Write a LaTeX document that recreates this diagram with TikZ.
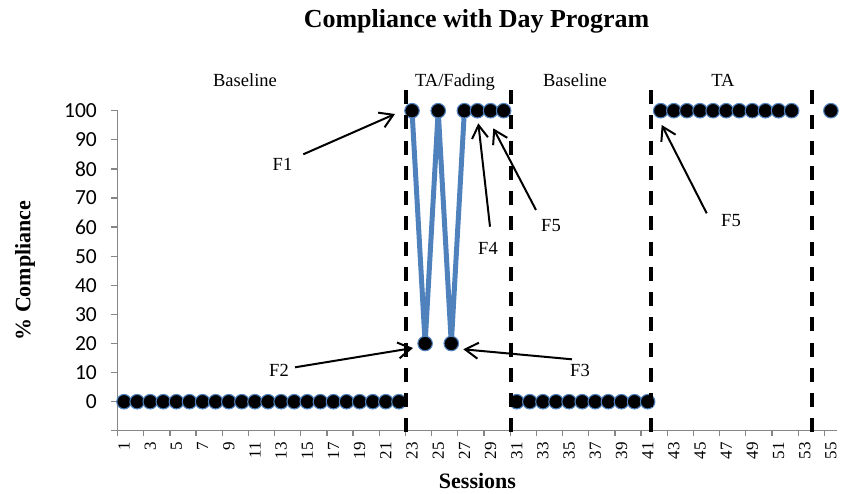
\documentclass[tikz,border=0pt]{standalone}
\usepackage{fontspec}
\setmainfont{Liberation Serif}
\newfontfamily\calibfont{Carlito}
\usetikzlibrary{arrows.meta}
\definecolor{serblue}{HTML}{4F81BD}
\definecolor{axgray}{HTML}{868686}
\pgfdeclarelayer{seriesbg}
\pgfsetlayers{seriesbg,main}
\begin{document}
\begin{tikzpicture}[x=1pt,y=-1pt,
  axisline/.style={draw=axgray, line width=1.3pt},
  phaseline/.style={line width=3.8pt, dash pattern=on 14pt off 11.25pt},
  dot/.style={circle, fill=black, draw=serblue, line width=1.1pt, minimum size=14.5pt, inner sep=0pt},
  series/.style={draw=serblue, line width=5pt, line join=round},
  callout/.style={line width=2pt, -{Straight Barb[length=13pt,width=16pt,line width=2pt]}},
  ylab/.style={anchor=east, inner sep=0pt, font=\calibfont\fontsize{21.5}{22}\selectfont},
  xlab/.style={rotate=90, anchor=east, inner sep=0pt, font=\fontsize{17}{17}\selectfont},
  phaselab/.style={anchor=base, inner sep=0pt, font=\fontsize{18.5}{19}\selectfont},
  flab/.style={anchor=base, inner sep=0pt, font=\fontsize{18.5}{19}\selectfont},
  titlelab/.style={anchor=base, inner sep=0pt, font=\bfseries\fontsize{26}{27}\selectfont},
  axtitle/.style={anchor=base, inner sep=0pt, font=\bfseries\fontsize{22}{23}\selectfont}
]
\useasboundingbox (0,0) rectangle (846,493);

% title
\node[titlelab] (title) at (476.5,27) {Compliance with Day Program};

% axes
\draw[axisline] (117.5,110.7) -- (117.5,430.8) -- (837,430.8);
\foreach \v in {-10,0,...,100}
  \draw[axisline] (110.5,{401.7-2.91*\v}) -- (117.5,{401.7-2.91*\v});
\foreach \v in {0,10,...,100}
  \node[ylab] (yl\v) at (97,{401.7-2.91*\v}) {\v};
\foreach \k in {0,...,27}
  \draw[axisline] ({117.5+2*\k*13.09},430.8) -- ({117.5+2*\k*13.09},436.3);
\foreach \i in {1,3,...,55}
  \node[xlab] (xl\i) at ({117.5+(\i-0.5)*13.09},442) {\i};

% axis titles
\node[axtitle] (xtitle) at (477.5,488.3) {Sessions};
\node[axtitle, rotate=90] (ytitle) at (30.5,270.5) {\% Compliance};

% phase labels
\node[phaselab] (ph1) at (245,86) {Baseline};
\node[phaselab] (ph2) at (455,86) {TA/Fading};
\node[phaselab] (ph3) at (575,86) {Baseline};
\node[phaselab] (ph4) at (723,86) {TA};

% data points
\foreach \i in {1,...,22}
  \node[dot] (p\i) at ({117.5+(\i-0.5)*13.09},401.7) {};
\foreach \i/\v in {23/100,24/20,25/100,26/20,27/100,28/100,29/100,30/100}
  \node[dot] (p\i) at ({117.5+(\i-0.5)*13.09},{401.7-2.91*\v}) {};
\foreach \i in {31,...,41}
  \node[dot] (p\i) at ({117.5+(\i-0.5)*13.09},401.7) {};
\foreach \i in {42,...,52}
  \node[dot] (p\i) at ({117.5+(\i-0.5)*13.09},110.7) {};
\node[dot] (p55) at ({117.5+54.5*13.09},110.7) {};

\begin{pgfonlayer}{seriesbg}
  \draw[series] (p23.center) -- (p24.center) -- (p25.center) -- (p26.center)
    -- (p27.center) -- (p28.center) -- (p29.center) -- (p30.center);
\end{pgfonlayer}

% phase change lines
\foreach \x in {406,511,650.7,811.7}
  \draw[phaseline] (\x,90) -- (\x,433);

% callouts
\node[flab] (f1) at (282.5,170.7) {F1};
\node[flab] (f2) at (279,376.7) {F2};
\node[flab] (f3) at (580,376.7) {F3};
\node[flab] (f4) at (488,254) {F4};
\node[flab] (f5a) at (551,231.7) {F5};
\node[flab] (f5b) at (731,226.7) {F5};

\coordinate (f1s) at (303.3,154.3); \coordinate (f1t) at (395,114);
\coordinate (f2s) at (295,367.3);   \coordinate (f2t) at (413,348);
\coordinate (f3s) at (572,359.3);   \coordinate (f3t) at (463.3,349.3);
\coordinate (f4s) at (490,226.7);   \coordinate (f4t) at (478.3,123.3);
\coordinate (f5as) at (536,210);    \coordinate (f5at) at (493.3,128.3);
\coordinate (f5bs) at (706.7,213.3); \coordinate (f5bt) at (661.7,125);

\draw[callout] (f1s) -- (f1t);
\draw[callout] (f2s) -- (f2t);
\draw[callout] (f3s) -- (f3t);
\draw[callout] (f4s) -- (f4t);
\draw[callout] (f5as) -- (f5at);
\draw[callout] (f5bs) -- (f5bt);
\end{tikzpicture}
\end{document}
